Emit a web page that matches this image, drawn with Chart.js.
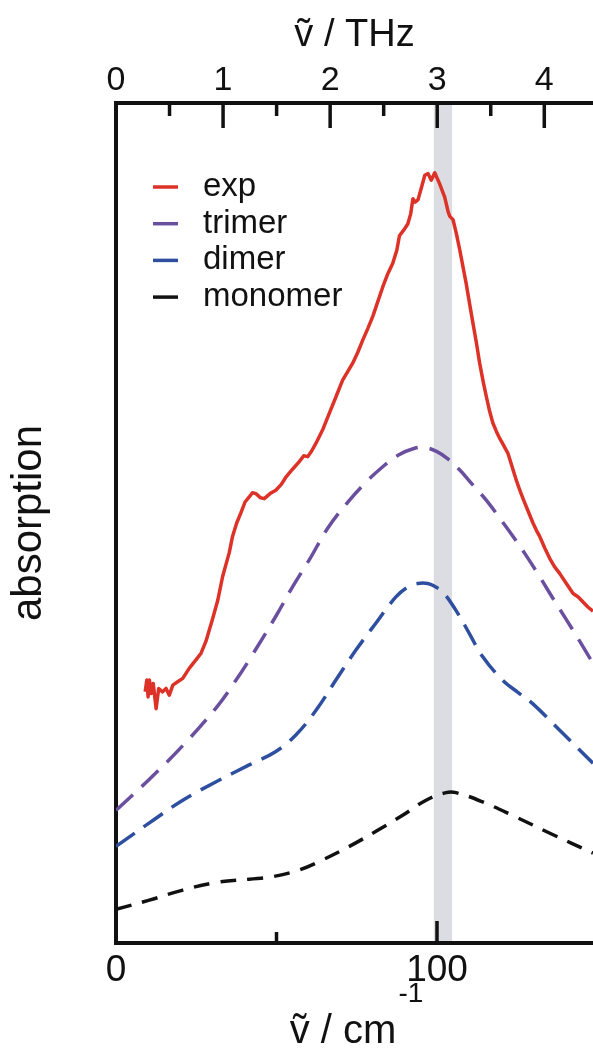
<!DOCTYPE html>
<html><head><meta charset="utf-8">
<style>
html,body{margin:0;padding:0;background:#fff;overflow:hidden;}
#wrap{position:relative;width:593px;height:1050px;}
</style>
<script src="https://cdn.jsdelivr.net/npm/chart.js@4.4.1/dist/chart.umd.min.js"></script>
</head><body>
<div id="wrap"><canvas id="c"></canvas></div>
<script>
// ---- data (x in cm^-1, y in arbitrary absorption units) ----
const seriesLabels = ['exp', 'trimer', 'dimer', 'monomer'];

const expX = [9.1,9.6,10.0,10.4,11.0,11.6,12.5,13.3,14.5,15.6,16.6,17.7,19.2,20.8,21.8,22.8,24.9,26.5,28.0,30.1,31.7,33.2,35.3,36.3,37.6,38.9,40.2,41.5,42.5,43.6,45.0,46.2,48.0,49.8,51.5,53.0,55.0,57.1,58.5,59.7,61.0,62.3,64.5,66.5,68.5,70.6,72.0,73.7,75.3,76.9,78.5,80.0,81.5,83.1,84.6,86.2,87.5,88.3,89.5,90.9,91.8,92.5,93.2,94.1,95.2,96.2,97.2,98.2,99.3,100.8,102.4,103.5,104.0,105.0,106.0,107.1,108.1,109.1,110.2,111.2,112.3,113.3,114.4,115.4,116.4,117.4,118.5,119.5,120.8,122.1,123.4,124.7,125.8,126.8,128.4,129.9,131.0,132.0,133.6,135.1,136.6,138.2,140.3,142.4,144.0,145.5,147.0,148.6];
const expY = [29.9,31.3,29.3,31.3,29.7,30.9,27.9,30.3,29.9,30.3,29.5,30.7,31.1,31.5,32.1,32.7,33.7,34.5,35.9,38.6,40.8,43.6,46.5,48.4,50.0,51.2,52.5,53.1,53.6,53.5,53.0,52.9,53.5,53.9,54.6,55.5,56.4,57.3,58.0,57.9,58.6,59.5,61.2,63.1,65.0,67.0,67.9,69.0,70.3,71.8,73.2,74.6,76.3,78.1,79.6,80.9,82.5,84.2,84.8,85.6,86.8,88.6,88.2,88.5,90.0,91.4,91.6,90.8,91.7,90.4,88.8,87.0,86.5,86.1,84.5,82.5,80.5,78.5,76.0,73.8,71.4,69.0,66.8,65.0,63.3,61.9,60.9,60.1,59.2,58.3,56.7,55.1,53.9,52.9,51.4,50.0,49.1,48.4,47.0,45.8,44.8,44.0,42.8,41.6,41.2,40.6,40.0,39.5];

const trimerX = [0,10.4,20.8,31.2,37.4,41.5,49.8,55.0,60.2,66.0,72.7,78.0,83.1,88.0,93.0,96.0,100.0,103.5,107.1,111.0,115.4,119.5,123.7,128.0,132.0,136.0,140.3,144.5,148.6];
const trimerY = [15.8,19.5,23.5,28.0,31.3,33.7,38.9,42.4,45.6,49.4,52.7,54.9,56.7,58.1,58.9,59.0,58.5,57.6,56.3,54.6,52.7,50.6,48.4,46.0,43.6,41.1,38.5,35.9,33.3];

const dimerX = [0,10.4,20.8,31.2,41.5,49.8,56.1,62.3,68.5,74.8,81.0,87.2,91.0,94.0,97.1,99.5,101.8,105.9,110.0,114.2,120.4,125.0,129.8,139.1,148.6];
const dimerY = [11.5,14.3,17.0,19.2,21.2,22.8,24.8,27.7,31.3,34.9,38.1,41.2,42.4,42.8,42.8,42.4,41.8,39.6,36.9,34.1,31.3,29.9,28.5,25.0,21.4];

const monomerX = [0,10.4,20.8,31.2,41.5,48.8,57.1,64.4,72.7,81.0,89.3,96.6,102.8,105.9,114.2,124.6,135.0,148.6];
const monomerY = [4.0,5.1,6.3,7.2,7.6,7.9,8.7,9.9,11.5,13.3,15.2,17.0,17.9,17.9,16.8,15.0,13.1,10.7];

const xMin = 0, xMax = 148.6;          // cm^-1
const yMin = 0, yMax = 100;
const CM_PER_THZ = 33.356;
const cmTickLabels = [0, 100];
const cmMinorTicks = [50];
const thzTickLabels = [0, 1, 2, 3, 4];
const thzMinorTicks = [0.5, 1.5, 2.5, 3.5];
const bandRange = [99.0, 104.7];       // highlighted region, cm^-1
const yTitle = 'absorption';
const topTitle = 'ṽ / THz';
const bottomTitleMain = 'ṽ / cm';
const bottomTitleSup = '-1';

// ---- styling ----
const FONT = '"Liberation Sans", Arial, Helvetica, sans-serif';
const INK = '#111111';
const colors = ['#dc3228', '#6a4f9f', '#2e4f9f', '#111111'];

function pts(xs, ys) { return xs.map((x, i) => ({x: x, y: ys[i]})); }

const bandPlugin = {
  id: 'band',
  beforeDraw(chart) {
    const {ctx, chartArea} = chart;
    const xs = chart.scales.x;
    const x0 = xs.getPixelForValue(bandRange[0]);
    const x1 = xs.getPixelForValue(bandRange[1]);
    ctx.save();
    ctx.fillStyle = '#dcdde2';
    ctx.fillRect(x0, chartArea.top, x1 - x0, chartArea.bottom - chartArea.top);
    ctx.restore();
  }
};

const tickPlugin = {
  id: 'innerTicks',
  afterDraw(chart) {
    const {ctx, chartArea} = chart;
    const xb = chart.scales.x, xt = chart.scales.x2;
    ctx.save();
    ctx.strokeStyle = INK;
    ctx.lineWidth = 3.5;
    ctx.lineCap = 'butt';
    const draw = (scale, vals, y, len) => {
      vals.forEach(v => {
        const px = scale.getPixelForValue(v);
        if (px <= chartArea.left + 2) return;
        ctx.beginPath(); ctx.moveTo(px, y); ctx.lineTo(px, y + len); ctx.stroke();
      });
    };
    draw(xb, cmTickLabels, chartArea.bottom, -22);
    draw(xb, cmMinorTicks, chartArea.bottom, -11);
    draw(xt, thzTickLabels, chartArea.top, 25);
    draw(xt, thzMinorTicks, chartArea.top, 13);
    ctx.restore();
  }
};

const legendPlugin = {
  id: 'innerLegend',
  afterDraw(chart) {
    const {ctx} = chart;
    ctx.save();
    ctx.font = '33px ' + FONT;
    ctx.textBaseline = 'middle';
    ctx.textAlign = 'left';
    chart.data.datasets.forEach((ds, i) => {
      const y = 187 + i * 36.7;
      ctx.strokeStyle = ds.borderColor;
      ctx.lineWidth = 3.5;
      ctx.setLineDash([]);
      ctx.beginPath(); ctx.moveTo(153, y); ctx.lineTo(178, y); ctx.stroke();
      ctx.fillStyle = INK;
      ctx.fillText(ds.label, 203, y);
    });
    ctx.restore();
  }
};

const bottomTitlePlugin = {
  id: 'bottomTitle',
  afterDraw(chart) {
    const {ctx, chartArea} = chart;
    ctx.save();
    ctx.fillStyle = INK;
    ctx.textBaseline = 'alphabetic';
    ctx.textAlign = 'left';
    const mainFont = '40px ' + FONT, supFont = '28px ' + FONT;
    ctx.font = mainFont; const wm = ctx.measureText(bottomTitleMain).width;
    ctx.font = supFont; const ws = ctx.measureText(bottomTitleSup).width;
    const cx = (chartArea.left + chartArea.right) / 2 + 2;
    const x0 = cx - (wm + ws + 2) / 2;
    ctx.font = mainFont; ctx.fillText(bottomTitleMain, x0, 1043);
    ctx.font = supFont; ctx.fillText(bottomTitleSup, x0 + wm + 2, 1002);
    ctx.restore();
  }
};

const ctx = document.getElementById('c').getContext('2d');
new Chart(ctx, {
  type: 'line',
  data: {
    datasets: [
      {label: seriesLabels[0], data: pts(expX, expY), borderColor: colors[0], borderWidth: 3.5, tension: 0},
      {label: seriesLabels[1], data: pts(trimerX, trimerY), borderColor: colors[1], borderWidth: 3.5, borderDash: [23, 12], tension: 0.4},
      {label: seriesLabels[2], data: pts(dimerX, dimerY), borderColor: colors[2], borderWidth: 3.5, borderDash: [23, 11], tension: 0.4},
      {label: seriesLabels[3], data: pts(monomerX, monomerY), borderColor: colors[3], borderWidth: 3.5, borderDash: [16, 11], tension: 0.4}
    ]
  },
  options: {
    responsive: true,
    maintainAspectRatio: false,
    animation: false,
    layout: {padding: 0},
    elements: {point: {radius: 0}, line: {fill: false, borderCapStyle: 'butt', borderJoinStyle: 'round'}},
    plugins: {legend: {display: false}, tooltip: {enabled: false}},
    scales: {
      x: {
        type: 'linear', position: 'bottom', min: xMin, max: xMax,
        afterBuildTicks: s => { s.ticks = cmTickLabels.map(v => ({value: v})); },
        afterFit: s => { s.height = 107; },
        grid: {display: false, drawTicks: false},
        border: {display: true, color: INK, width: 4},
        ticks: {font: {family: FONT, size: 37, lineHeight: 1}, color: INK, padding: 9.5, maxRotation: 0, autoSkip: false},
        title: {display: false}
      },
      x2: {
        type: 'linear', position: 'top', min: xMin / CM_PER_THZ, max: xMax / CM_PER_THZ,
        afterBuildTicks: s => { s.ticks = thzTickLabels.map(v => ({value: v})); },
        afterFit: s => { s.height = 103; },
        grid: {display: false, drawTicks: false},
        border: {display: true, color: INK, width: 4},
        ticks: {font: {family: FONT, size: 34, lineHeight: 1}, color: INK, padding: 5.5, maxRotation: 0, autoSkip: false},
        title: {display: true, text: topTitle, color: INK, font: {family: FONT, size: 38, lineHeight: 1}, padding: {top: 17, bottom: 0}}
      },
      y: {
        type: 'linear', position: 'left', min: yMin, max: yMax,
        afterFit: s => { s.width = 116; },
        grid: {display: false, drawTicks: false},
        border: {display: true, color: INK, width: 4},
        ticks: {display: false},
        title: {display: true, text: yTitle, color: INK, font: {family: FONT, size: 42, lineHeight: 1}, padding: {top: 8, bottom: 0}}
      }
    }
  },
  plugins: [bandPlugin, tickPlugin, legendPlugin, bottomTitlePlugin]
});
</script>
</body></html>
